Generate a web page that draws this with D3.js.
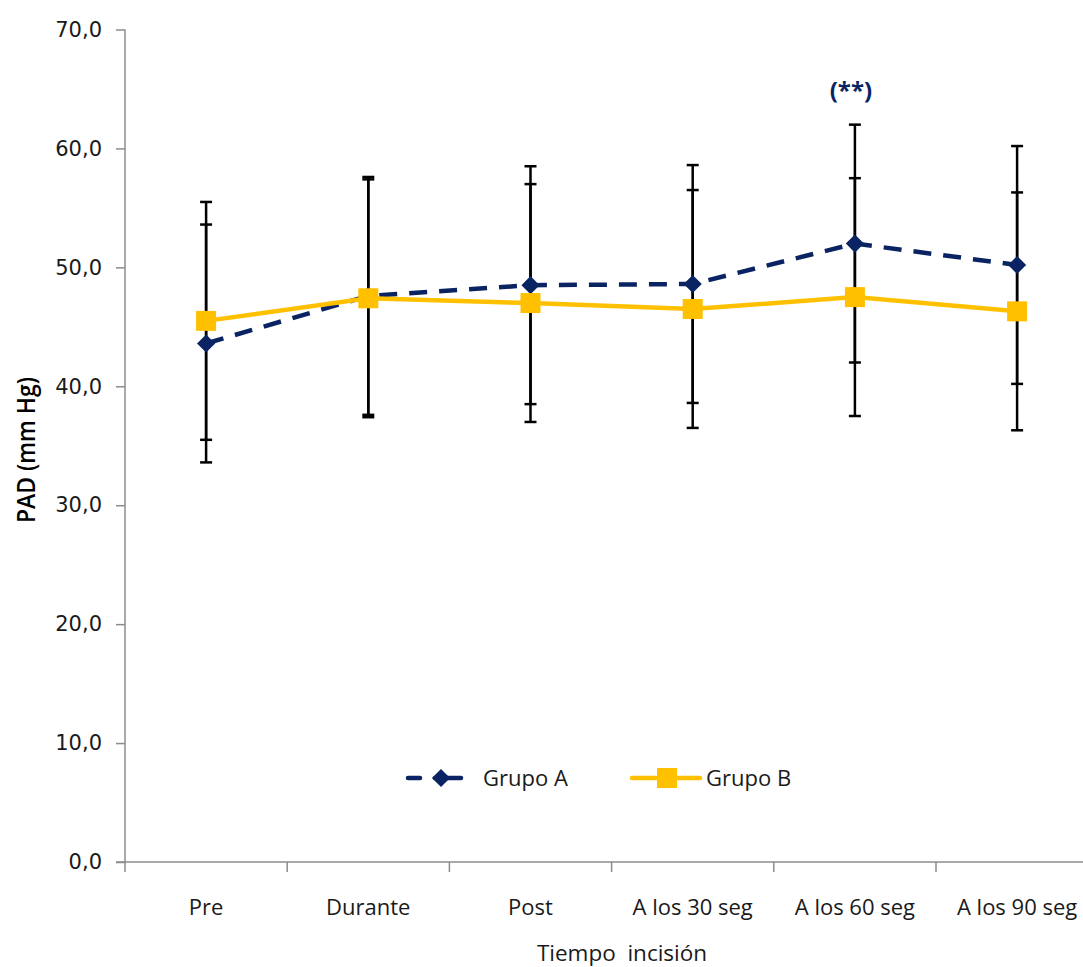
<!DOCTYPE html>
<html>
<head>
<meta charset="utf-8">
<script src="https://cdn.jsdelivr.net/npm/d3@7"></script>
<style>
  body { margin: 0; background: #fff; }
  svg { display: block; }
</style>
</head>
<body>
<script>
// data
var categories = ["Pre", "Durante", "Post", "A los 30 seg", "A los 60 seg", "A los 90 seg"];
var grupoA = [43.6, 47.6, 48.5, 48.6, 52.0, 50.2];
var grupoB = [45.5, 47.4, 47.0, 46.5, 47.5, 46.3];
var errA = [10, 10, 10, 10, 10, 10];
var errB = [10, 10, 10, 10, 10, 10];
var yTicks = [0, 10, 20, 30, 40, 50, 60, 70];

var W = 1083, H = 967;
var plotLeft = 125, plotTop = 29.5, plotBottom = 862;

var svg = d3.select("body").append("svg")
	.attr("width", W)
	.attr("height", H);

var x = d3.scaleBand()
	.domain(categories)
	.range([plotLeft, plotLeft + 6 * 162.2])
	.padding(0);

var y = d3.scaleLinear()
	.domain([0, 70])
	.range([plotBottom, plotTop]);

var es = d3.formatLocale({decimal: ",", thousands: ".", grouping: [3], currency: ["", ""]});
var fmt = es.format(".1f");

function cx(d) { return x(d) + x.bandwidth() / 2; }

// y axis
var yAxis = d3.axisLeft(y)
	.tickValues(yTicks)
	.tickSize(9)
	.tickPadding(14)
	.tickFormat(fmt);

var gy = svg.append("g")
	.attr("transform", "translate(" + plotLeft + ",0)")
	.call(yAxis);
gy.select(".domain").attr("stroke", "#8c8c8c").attr("stroke-width", 1.5).attr("d", "M0," + plotTop + "V" + plotBottom);
gy.selectAll(".tick line").attr("stroke", "#8c8c8c").attr("stroke-width", 1.5);
gy.selectAll(".tick text")
	.attr("fill", "#1a1a1a")
	.style("font-family", "DejaVu Sans")
	.style("font-size", "21px");

// x axis line and boundary ticks
svg.append("line")
	.attr("x1", plotLeft - 9).attr("x2", W)
	.attr("y1", plotBottom).attr("y2", plotBottom)
	.attr("stroke", "#8c8c8c").attr("stroke-width", 1.5);

svg.selectAll(".xtick")
	.data(categories)
	.enter().append("line")
	.attr("class", "xtick")
	.attr("x1", function(d) { return x(d); })
	.attr("x2", function(d) { return x(d); })
	.attr("y1", plotBottom).attr("y2", plotBottom + 10)
	.attr("stroke", "#8c8c8c").attr("stroke-width", 1.5);

svg.selectAll(".xlabel")
	.data(categories)
	.enter().append("text")
	.attr("class", "xlabel")
	.attr("x", cx)
	.attr("y", plotBottom + 53)
	.attr("text-anchor", "middle")
	.attr("fill", "#1a1a1a")
	.style("font-family", "Open Sans")
	.style("font-size", "22px")
	.text(function(d) { return d; });

// axis titles
svg.append("text")
	.attr("x", 622)
	.attr("y", 961)
	.attr("text-anchor", "middle")
	.attr("fill", "#1a1a1a")
	.style("font-family", "Open Sans")
	.style("font-size", "22.5px")
	.style("white-space", "pre")
	.text("Tiempo  incisión");

svg.append("text")
	.attr("transform", "translate(35," + 450 + ") rotate(-90)")
	.attr("text-anchor", "middle")
	.attr("fill", "#000")
	.attr("textLength", 146)
	.attr("lengthAdjust", "spacingAndGlyphs")
	.style("font-family", "Open Sans")
	.style("font-weight", "600")
	.style("font-size", "25px")
	.text("PAD (mm Hg)");

// error bars (both groups share the category position)
function errorBars(vals, errs, cls) {
	var g = svg.append("g").attr("class", cls);
	var rows = vals.map(function(v, i) { return {c: categories[i], v: v, e: errs[i]}; });
	g.selectAll("line.v").data(rows).enter().append("line")
		.attr("x1", function(d) { return cx(d.c); })
		.attr("x2", function(d) { return cx(d.c); })
		.attr("y1", function(d) { return y(d.v + d.e); })
		.attr("y2", function(d) { return y(d.v - d.e); })
		.attr("stroke", "#000").attr("stroke-width", 2.5);
	[1, -1].forEach(function(s) {
		g.selectAll("line.cap" + s).data(rows).enter().append("line")
			.attr("x1", function(d) { return cx(d.c) - 6; })
			.attr("x2", function(d) { return cx(d.c) + 6; })
			.attr("y1", function(d) { return y(d.v + s * d.e); })
			.attr("y2", function(d) { return y(d.v + s * d.e); })
			.attr("stroke", "#000").attr("stroke-width", 2.5);
	});
}
errorBars(grupoA, errA, "errA");
errorBars(grupoB, errB, "errB");

var navy = "#0a2463";
var gold = "#ffc000";

var line = d3.line()
	.x(function(d, i) { return cx(categories[i]); })
	.y(function(d) { return y(d); });

// Grupo A dashed line + diamonds
svg.append("path")
	.datum(grupoA)
	.attr("d", line)
	.attr("fill", "none")
	.attr("stroke", navy)
	.attr("stroke-width", 4.5)
	.attr("stroke-dasharray", "18,12");

var diamond = d3.symbol().type(d3.symbolDiamond2).size(210);
svg.selectAll(".ptA")
	.data(grupoA)
	.enter().append("path")
	.attr("class", "ptA")
	.attr("d", diamond)
	.attr("transform", function(d, i) { return "translate(" + cx(categories[i]) + "," + y(d) + ")"; })
	.attr("fill", navy);

// Grupo B solid line + squares
svg.append("path")
	.datum(grupoB)
	.attr("d", line)
	.attr("fill", "none")
	.attr("stroke", gold)
	.attr("stroke-width", 4.5);

svg.selectAll(".ptB")
	.data(grupoB)
	.enter().append("rect")
	.attr("class", "ptB")
	.attr("x", function(d, i) { return cx(categories[i]) - 10; })
	.attr("y", function(d) { return y(d) - 10; })
	.attr("width", 20).attr("height", 20)
	.attr("fill", gold);

// significance mark
svg.append("text")
	.attr("x", cx("A los 60 seg") - 4)
	.attr("y", 99)
	.attr("text-anchor", "middle")
	.attr("fill", navy)
	.style("font-family", "Open Sans")
	.style("font-weight", "bold")
	.style("font-size", "24px")
	.text("(**)");

// legend
var leg = svg.append("g").attr("transform", "translate(0,778)");
leg.append("line").attr("x1", 408).attr("x2", 420).attr("y1", 0).attr("y2", 0)
	.attr("stroke", navy).attr("stroke-width", 4.5).attr("stroke-linecap", "round");
leg.append("line").attr("x1", 435).attr("x2", 461).attr("y1", 0).attr("y2", 0)
	.attr("stroke", navy).attr("stroke-width", 4.5).attr("stroke-linecap", "round");
leg.append("path").attr("d", diamond).attr("transform", "translate(441,0)").attr("fill", navy);
leg.append("text").attr("x", 483).attr("y", 8)
	.attr("fill", "#1a1a1a")
	.style("font-family", "Open Sans").style("font-size", "22px")
	.text("Grupo A");

leg.append("line").attr("x1", 632).attr("x2", 700).attr("y1", 0).attr("y2", 0)
	.attr("stroke", gold).attr("stroke-width", 4.5).attr("stroke-linecap", "round");
leg.append("rect").attr("x", 657).attr("y", -10).attr("width", 20).attr("height", 20).attr("fill", gold);
leg.append("text").attr("x", 706).attr("y", 8)
	.attr("fill", "#1a1a1a")
	.style("font-family", "Open Sans").style("font-size", "22px")
	.text("Grupo B");
</script>
</body>
</html>
